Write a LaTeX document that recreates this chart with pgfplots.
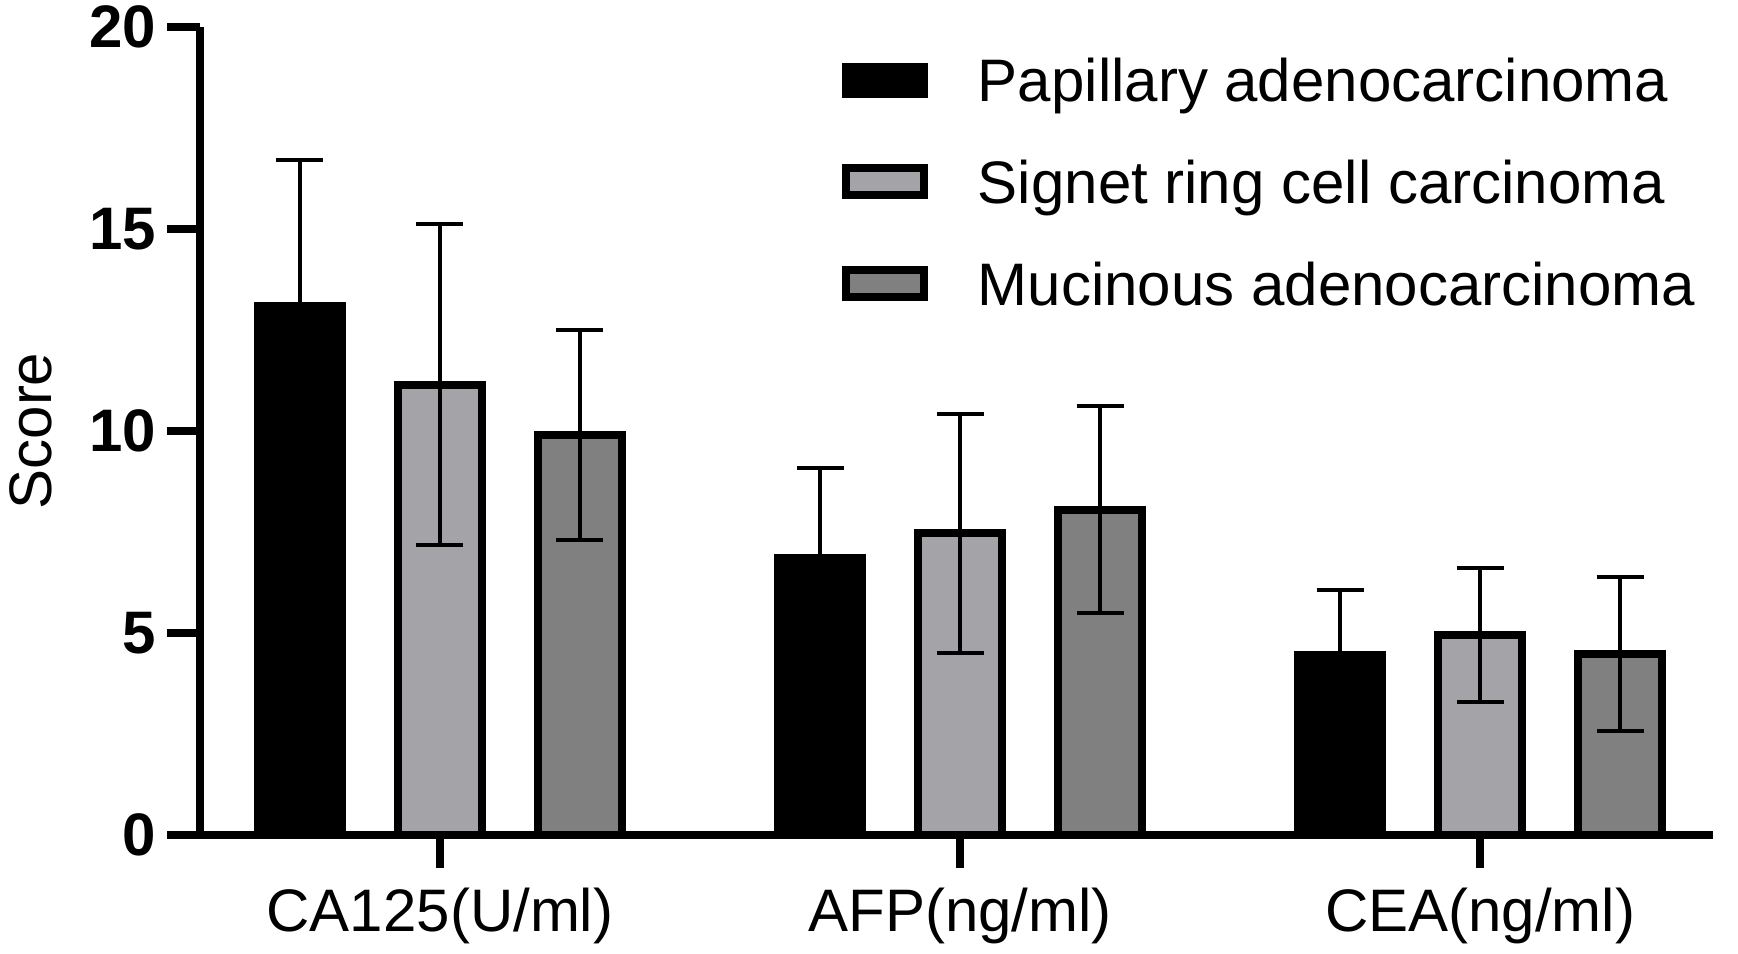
\documentclass[border=0pt]{standalone}
\usepackage{fontspec}
\setmainfont{Liberation Sans}
\usepackage{pgfplots}
\pgfplotsset{compat=1.18}
\definecolor{lightg}{RGB}{164,164,168}
\definecolor{darkg}{RGB}{128,128,128}
\begin{document}
\begin{tikzpicture}
\useasboundingbox (-50pt,-29.75pt) rectangle (384.5pt,208.75pt);
\begin{axis}[
  at={(0,0)}, anchor=south west,
  scale only axis, width=378.25pt, height=202pt,
  xmin=-0.4615, xmax=2.448, ymin=0, ymax=20,
  axis lines*=left,
  axis line style={line width=2pt, black},
  ybar, bar width=21pt,
  xtick={0,1,2},
  xticklabels={CA125(U/ml),AFP(ng/ml),CEA(ng/ml)},
  ytick={0,5,10,15,20},
  tick align=outside, major tick length=8.25pt,
  tick style={line width=2pt, black},
  /pgf/number format/assume math mode=true,
  xticklabel style={font=\fontsize{15}{18}\selectfont, inner sep=0pt, anchor=north, yshift=-4.85pt},
  yticklabel style={font=\bfseries\fontsize{15}{18}\selectfont, inner sep=0pt, anchor=east, xshift=-2.5pt},
  ylabel={Score},
  every axis y label/.style={at={(axis description cs:-0.1117,0.5)}, rotate=90, anchor=center, font=\fontsize{15}{18}\selectfont},
  legend cell align=left,
  legend style={draw=none, fill=none, inner sep=0pt, outer sep=0pt,
    at={(0.4243,1)}, anchor=north west, yshift=-7.9pt,
    row sep=14.8pt, font=\fontsize{15}{18}\selectfont,
    nodes={inner sep=0pt, text height=10.7pt, text depth=0pt},
    /tikz/every odd column/.append style={column sep=12.5pt}},
  legend image code/.code={\draw[#1, line width=2pt] (0pt,-3.375pt) rectangle (19.5pt,3.375pt);},
  error bars/y dir=both, error bars/y explicit,
  error bars/error bar style={line width=1pt, black, solid},
  error bars/error mark options={rotate=90, black, line width=1pt, mark size=5.875pt},
]
\addplot[fill=black, draw=black, line width=2pt, bar shift=-35pt]
  coordinates {(0,13.1) +- (0,3.62) (1,6.85) +- (0,2.23) (2,4.45) +- (0,1.61)};
\addlegendentry{Papillary adenocarcinoma}
\addplot[fill=lightg, draw=black, line width=2pt, bar shift=0pt]
  coordinates {(0,11.15) +- (0,3.98) (1,7.47) +- (0,2.96) (2,4.95) +- (0,1.66)};
\addlegendentry{Signet ring cell carcinoma}
\addplot[fill=darkg, draw=black, line width=2pt, bar shift=35pt]
  coordinates {(0,9.9) +- (0,2.6) (1,8.05) +- (0,2.56) (2,4.48) +- (0,1.9)};
\addlegendentry{Mucinous adenocarcinoma}
\end{axis}
\end{tikzpicture}
\end{document}
